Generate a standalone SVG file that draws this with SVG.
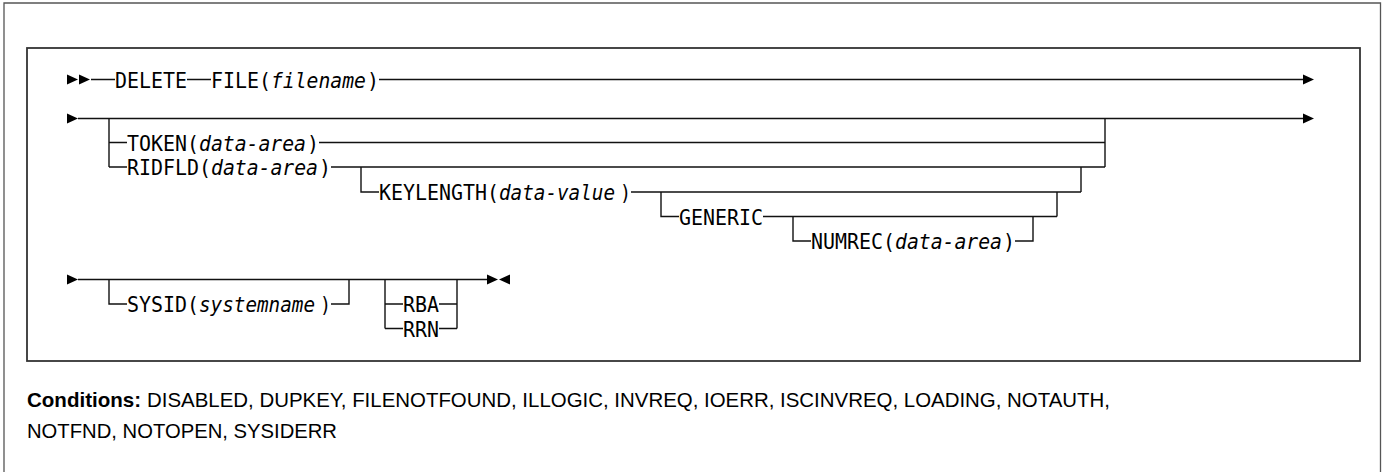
<svg xmlns="http://www.w3.org/2000/svg" xmlns:xlink="http://www.w3.org/1999/xlink" width="1383" height="472" viewBox="0 0 1383 472">
<style>
.t{font-family:"DejaVu Sans Mono","Liberation Mono",monospace;font-size:20.4px;fill:#000}
.i{font-style:italic}
.c{stroke:#111;stroke-width:1.4;fill:none}
.a{fill:#000}
.frame-o{fill:none;stroke:#555;stroke-width:1.3}
.frame-i{fill:none;stroke:#333;stroke-width:1.8}
.cond{font-family:"Liberation Sans",Arial,sans-serif;font-size:20.6px;fill:#000}
.b{font-weight:bold}
</style>
<defs>
<polygon id="ar" points="0,-5 11,0 0,5"/>
<polygon id="al" points="11,-5 0,0 11,5"/>
</defs>
<rect width="1383" height="472" fill="#fff"/>
<g id="frames">
<path class="frame-o" d="M4 480 V3 H1380.5 V480"/>
<rect class="frame-i" x="27" y="48" width="1333" height="313"/>
</g>
<g id="connectors">
<path class="c" d="M91 79.5 H115 M187 79.5 H211 M379 79.5 H1303"/>
<path class="c" d="M78 118.5 H1303 M109 118.5 V167 M109 142.5 H127 M319 142.5 H1105 M109 167 H127 M331 167 H1105 M1105 118.5 V167"/>
<path class="c" d="M361 167 V192 H379 M631 192 H1081 M1081 167 V192"/>
<path class="c" d="M661 192 V216.5 H679 M763 216.5 H1057 M1057 192 V216.5"/>
<path class="c" d="M793 216.5 V241 H811 M1015 241 H1033 V216.5"/>
<path class="c" d="M78 279.5 H487 M109 279.5 V304 H127 M331 304 H349 V279.5"/>
<path class="c" d="M385 279.5 V328.5 M385 304 H403 M439 304 H457 M385 328.5 H403 M439 328.5 H457 M457 279.5 V328.5"/>
<use class="a" href="#ar" x="67" y="79.5"/>
<use class="a" href="#ar" x="79" y="79.5"/>
<use class="a" href="#ar" x="1303" y="79.5"/>
<use class="a" href="#ar" x="67" y="118.5"/>
<use class="a" href="#ar" x="1303" y="118.5"/>
<use class="a" href="#ar" x="67" y="279.5"/>
<use class="a" href="#ar" x="487" y="279.5"/>
<use class="a" href="#al" x="499" y="279.5"/>
</g>
<g id="n-delete"><text class="t" x="115" y="87.5" textLength="72" lengthAdjust="spacingAndGlyphs">DELETE</text></g>
<g id="n-file">
<text class="t" x="211" y="87.5" textLength="60" lengthAdjust="spacingAndGlyphs">FILE(</text>
<text class="t i" x="271" y="87.5" textLength="95" lengthAdjust="spacingAndGlyphs">filename</text>
<text class="t" x="367" y="87.5" textLength="12" lengthAdjust="spacingAndGlyphs">)</text>
</g>
<g id="n-token">
<text class="t" x="127" y="150.5" textLength="72" lengthAdjust="spacingAndGlyphs">TOKEN(</text>
<text class="t i" x="199" y="150.5" textLength="107" lengthAdjust="spacingAndGlyphs">data-area</text>
<text class="t" x="307" y="150.5" textLength="12" lengthAdjust="spacingAndGlyphs">)</text>
</g>
<g id="n-ridfld">
<text class="t" x="127" y="175" textLength="84" lengthAdjust="spacingAndGlyphs">RIDFLD(</text>
<text class="t i" x="211" y="175" textLength="107" lengthAdjust="spacingAndGlyphs">data-area</text>
<text class="t" x="319" y="175" textLength="12" lengthAdjust="spacingAndGlyphs">)</text>
</g>
<g id="n-keylength">
<text class="t" x="379" y="200" textLength="120" lengthAdjust="spacingAndGlyphs">KEYLENGTH(</text>
<text class="t i" x="499" y="200" textLength="116" lengthAdjust="spacingAndGlyphs">data-value</text>
<text class="t" x="620" y="200" textLength="11" lengthAdjust="spacingAndGlyphs">)</text>
</g>
<g id="n-generic"><text class="t" x="679" y="224.5" textLength="84" lengthAdjust="spacingAndGlyphs">GENERIC</text></g>
<g id="n-numrec">
<text class="t" x="811" y="249" textLength="84" lengthAdjust="spacingAndGlyphs">NUMREC(</text>
<text class="t i" x="895" y="249" textLength="107" lengthAdjust="spacingAndGlyphs">data-area</text>
<text class="t" x="1003" y="249" textLength="12" lengthAdjust="spacingAndGlyphs">)</text>
</g>
<g id="n-sysid">
<text class="t" x="127" y="312" textLength="72" lengthAdjust="spacingAndGlyphs">SYSID(</text>
<text class="t i" x="199" y="312" textLength="116" lengthAdjust="spacingAndGlyphs">systemname</text>
<text class="t" x="320" y="312" textLength="11" lengthAdjust="spacingAndGlyphs">)</text>
</g>
<g id="n-rba"><text class="t" x="403" y="312" textLength="36" lengthAdjust="spacingAndGlyphs">RBA</text></g>
<g id="n-rrn"><text class="t" x="403" y="336.5" textLength="36" lengthAdjust="spacingAndGlyphs">RRN</text></g>
<g id="conditions">
<text class="cond b" x="27" y="407" textLength="114" lengthAdjust="spacingAndGlyphs">Conditions:</text>
<text class="cond" x="147" y="407" textLength="963" lengthAdjust="spacingAndGlyphs">DISABLED, DUPKEY, FILENOTFOUND, ILLOGIC, INVREQ, IOERR, ISCINVREQ, LOADING, NOTAUTH,</text>
<text class="cond" x="27" y="438" textLength="310" lengthAdjust="spacingAndGlyphs">NOTFND, NOTOPEN, SYSIDERR</text>
</g>
</svg>
